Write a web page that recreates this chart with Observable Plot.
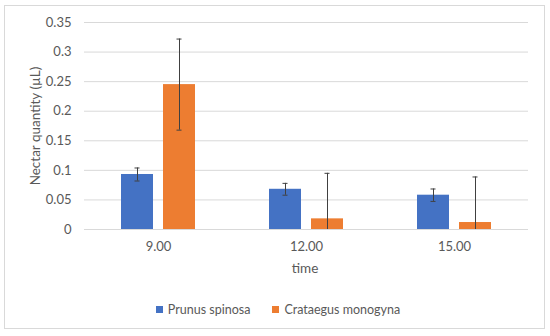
<!DOCTYPE html>
<html>
<head>
<meta charset="utf-8">
<script src="https://cdn.jsdelivr.net/npm/d3@7"></script>
<script src="https://cdn.jsdelivr.net/npm/@observablehq/plot@0.6"></script>
<style>
  html, body { margin: 0; padding: 0; background: #fff; }
  #wrap { position: relative; width: 550px; height: 336px; font-family: Lato, "Open Sans", sans-serif; color: #595959; }
  #border { position: absolute; left: 4px; top: 5px; width: 539px; height: 322px; border: 1.5px solid #d9d9d9; }
  #chart { position: absolute; left: 0; top: 0; }
  #ytitle { position: absolute; left: 35px; top: 126px; transform: translate(-50%, -50%) rotate(-90deg); white-space: nowrap; font-size: 13.5px; }
  #xtitle { position: absolute; left: 305px; top: 268px; transform: translate(-50%, -50%); white-space: nowrap; font-size: 13.5px; }
  #legend { position: absolute; left: 0; top: 302px; width: 550px; display: flex; justify-content: center; gap: 22px; font-size: 12.5px; padding-left: 6px; box-sizing: border-box; }
  .item { display: flex; align-items: center; }
  .sw { width: 7px; height: 7px; margin-right: 5px; }
</style>
</head>
<body>
<div id="wrap">
  <div id="border"></div>
  <div id="chart"></div>
  <div id="ytitle"></div>
  <div id="xtitle"></div>
  <div id="legend"></div>
</div>
<script>
const times = ["9.00", "12.00", "15.00"];
const series = ["Prunus spinosa", "Crataegus monogyna"];
const colors = ["#4472C4", "#ED7D31"];
const prunusMean = [0.093, 0.068, 0.058];
const prunusErr = [0.011, 0.010, 0.0105];
const crataegusMean = [0.245, 0.018, 0.0118];
const crataegusErr = [0.077, 0.077, 0.077];
const yTicks = [0, 0.05, 0.1, 0.15, 0.2, 0.25, 0.3, 0.35];
const yTickLabels = ["0", "0.05", "0.1", "0.15", "0.2", "0.25", "0.3", "0.35"];
const yTitle = "Nectar quantity (µL)";
const xTitle = "time";

const rows = [];
times.forEach((t, i) => {
  rows.push({time: t, series: series[0], mean: prunusMean[i], err: prunusErr[i]});
  rows.push({time: t, series: series[1], mean: crataegusMean[i], err: crataegusErr[i]});
});
rows.forEach(d => { d.lo = Math.max(0, d.mean - d.err); d.hi = d.mean + d.err; });

const chart = Plot.plot({
  width: 550,
  height: 280,
  marginLeft: 83,
  marginRight: 22,
  marginTop: 22,
  marginBottom: 51,
  style: {fontFamily: "Lato, 'Open Sans', sans-serif", fontSize: "13px", color: "#595959", background: "transparent", overflow: "visible"},
  fx: {domain: times, padding: 0, label: null},
  x: {domain: series, paddingInner: 0.2326, paddingOuter: 0.84, axis: null},
  y: {domain: [0, 0.35], label: null},
  color: {domain: series, range: colors},
  marks: [
    Plot.gridY(yTicks, {stroke: "#d9d9d9", strokeOpacity: 1, strokeWidth: 1}),
    Plot.axisY({ticks: yTicks, tickFormat: d => yTickLabels[yTicks.indexOf(d)], tickSize: 0, tickPadding: 13, fontSize: 13, label: null}),
    Plot.axisFx({anchor: "bottom", tickSize: 0, tickPadding: 12, fontSize: 13, label: null}),
    Plot.barY(rows, {fx: "time", x: "series", y: "mean", fill: "series"}),
    Plot.ruleX(rows, {fx: "time", x: "series", y1: "lo", y2: "hi", stroke: "#404040", strokeWidth: 1}),
    Plot.tickY(rows, {fx: "time", x: "series", y: "hi", stroke: "#404040", strokeWidth: 1, insetLeft: 13.5, insetRight: 13.5}),
    Plot.tickY(rows.filter(d => d.mean - d.err > 0), {fx: "time", x: "series", y: "lo", stroke: "#404040", strokeWidth: 1, insetLeft: 13.5, insetRight: 13.5})
  ]
});
document.getElementById("chart").appendChild(chart);
document.getElementById("ytitle").textContent = yTitle;
document.getElementById("xtitle").textContent = xTitle;

const legend = document.getElementById("legend");
series.forEach((s, i) => {
  const it = document.createElement("div");
  it.className = "item";
  const sw = document.createElement("div");
  sw.className = "sw";
  sw.style.background = colors[i];
  const tx = document.createElement("span");
  tx.textContent = s;
  it.appendChild(sw);
  it.appendChild(tx);
  legend.appendChild(it);
});
</script>
</body>
</html>
